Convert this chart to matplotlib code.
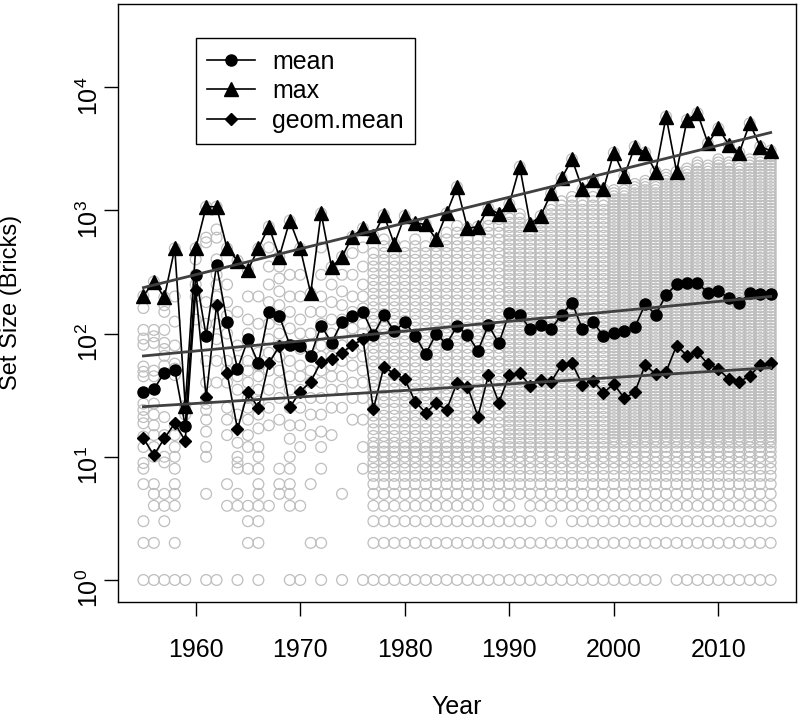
import numpy as np
import matplotlib
matplotlib.use("Agg")
from matplotlib import pyplot as plt
from matplotlib.ticker import LogLocator, LogFormatterSciNotation, NullLocator

plt.rcParams["font.family"] = ["Liberation Sans", "DejaVu Sans"]
plt.rcParams["mathtext.fontset"] = "custom"
plt.rcParams["mathtext.rm"] = "Liberation Sans"
plt.rcParams["mathtext.it"] = "Liberation Sans:italic"

years = list(range(1955, 2016))

# per-year summaries (bricks)
max_size = [202, 264, 197, 492, 26, 492, 1070, 1070, 492, 391,
            328, 492, 738, 421, 825, 492, 212, 947, 345, 421,
            612, 715, 620, 918, 531, 901, 785, 771, 582, 947,
            1550, 715, 738, 1040, 935, 1127, 2263, 775, 901, 1377,
            1822, 2600, 1483, 1765, 1483, 2940, 1902, 3290, 2940, 2062,
            5765, 2062, 5420, 6140, 3505, 4640, 3395, 2940, 5090, 3290, 3050]
mean_size = [33.4, 35.3, 48.2, 50.7, 17.8, 299, 96, 360, 125, 51.6,
             89.8, 57.4, 151, 139, 80.8, 79.3, 65.8, 116, 84.4, 125,
             139, 151, 97.4, 141, 104, 124, 95.7, 68.3, 99.2, 82.4,
             115, 97.4, 72.6, 117, 83.4, 147, 142, 109, 117, 109,
             142, 178, 108, 124, 95.7, 102, 104, 112, 174, 142,
             206, 251, 256, 256, 215, 222, 193, 178, 212, 210, 208]
geom_size = [14.1, 10.3, 14.1, 18.7, 13.5, 226, 30.4, 171, 48.2, 16.7,
             33.8, 24.8, 57.4, 79.3, 25.2, 33.8, 40.7, 59.2, 61.8, 70,
             80.8, 89.8, 24.3, 53.9, 47, 42.6, 28, 22.8, 27.2, 24,
             40, 37.1, 21.2, 46.1, 27.5, 46.1, 47.6, 37.6, 42, 40.7,
             55.6, 57.4, 38.3, 41.5, 33.1, 39, 29.8, 33.4, 55.6, 47,
             49.1, 79.8, 66.2, 70.5, 56.6, 51.6, 42.6, 40.3, 45.5, 55.6, 58]

# fitted trend lines (log scale), value at first and last year
trend_years = [1955, 2015]
trend_max = [236, 4280]
trend_mean = [65.8, 200]
trend_geom = [25.5, 52.8]

# individual set sizes, early years (sparse)
early_sizes = [
    [161, 107, 91, 81, 54, 49, 45, 27, 24, 21, 18.7, 14.6, 12, 8.9, 8, 6, 3, 2, 1],
    [107, 95, 84, 50, 45, 27, 22, 18, 15, 12, 10, 6, 5, 4, 2, 1],
    [170, 150, 107, 84, 75, 66, 55, 21, 15, 10, 9, 5, 4, 3, 1],
    [200, 125, 80, 57, 52, 46, 18, 15, 12, 10, 8, 6, 5, 4, 2, 1],
    [24, 22, 1],
    [400, 300, 250, 200, 130],
    [600, 550, 180, 120, 60, 40, 30, 27, 24, 20, 16, 12, 10, 5, 1],
    [700, 600, 400, 300, 250, 200, 170, 120, 90, 60, 40, 1],
    [250, 180, 140, 100, 60, 50, 40, 25, 20, 15, 6, 4],
    [150, 80, 60, 45, 35, 22, 13, 10, 9, 8, 5, 4, 1],
    [200, 130, 100, 85, 60, 50, 40, 30, 25, 20, 15, 12, 8, 4, 3, 2],
    [200, 120, 70, 55, 45, 35, 28, 22, 17, 12, 10, 8, 6, 5, 4, 3, 2, 1],
    [500, 350, 250, 180, 120, 90, 70, 50, 35, 25, 18, 4],
    [350, 280, 220, 170, 130, 100, 80, 65, 50, 40, 30, 20, 8, 6, 5],
    [300, 200, 150, 110, 80, 60, 45, 35, 25, 18, 14, 10, 8, 6, 5, 4, 1],
    [300, 200, 130, 100, 75, 55, 45, 35, 25, 18, 12, 4, 1],
    [150, 100, 80, 65, 50, 40, 30, 22, 15, 6, 2],
    [500, 300, 200, 150, 120, 100, 80, 65, 50, 40, 30, 22, 16, 12, 8, 2, 1],
    [250, 180, 130, 100, 80, 65, 55, 45, 35, 25, 15],
    [300, 220, 170, 130, 100, 80, 60, 45, 35, 25, 5, 1],
    [450, 300, 200, 150, 110, 90, 70, 55, 40, 30, 20],
    [500, 350, 250, 200, 160, 120, 100, 80, 65, 50, 40, 30, 20, 12, 8, 1],
]
# later years: sizes from 1 up to the top of the dense band
dense_top = [500, 600, 500, 580, 600, 560, 550, 700, 750, 650,
             650, 900, 850, 950, 1000, 700, 850, 1100, 1200, 1300,
             1200, 1300, 1250, 1500, 1500, 1700, 1800, 1700, 2000, 1900,
             2300, 2500, 2400, 2600, 2500, 2400, 2700, 2800, 2900]
gap_years = [2005, 1993, 1995, 1988, 1991]
gap_sizes = [1, 3, 3, 4, 4]

xs, ys = [], []
for i, yr in enumerate(years):
    if i < len(early_sizes):
        vals = list(early_sizes[i])
    else:
        top = dense_top[i - len(early_sizes)]
        vals = list(range(1, 13))
        step = 0.055 if yr < 1990 else (0.035 if yr < 2000 else 0.025)
        vals += list(10 ** np.arange(np.log10(13), np.log10(top), step))
        vals = [v for v in vals
                if not any(g == yr and s == v for g, s in zip(gap_years, gap_sizes))]
    vals.append(max_size[i])
    xs += [yr] * len(vals)
    ys += vals

fig = plt.figure(figsize=(8, 7.21), dpi=100)
ax = fig.add_axes([0.1479, 0.1655, 0.8468, 0.829])
ax.set_yscale("log")

ax.scatter(xs, ys, s=60, facecolors="none", edgecolors="#BEBEBE", linewidths=0.9, zorder=1)

l_mean, = ax.plot(years, mean_size, "-o", color="black", ms=8, lw=1.2, zorder=3)
l_max, = ax.plot(years, max_size, "-^", color="black", ms=10, lw=1.2, zorder=3)
l_geom, = ax.plot(years, geom_size, "-D", color="black", ms=6.3, lw=1.2, zorder=3)

for tr in (trend_max, trend_mean, trend_geom):
    ax.plot(trend_years, tr, color="#404040", lw=2.0, zorder=4)

ax.set_xlim(1952.6, 2017.4)
ax.set_ylim(10 ** -0.176, 10 ** 4.675)
ax.set_xticks([1960, 1970, 1980, 1990, 2000, 2010])
ax.yaxis.set_major_locator(LogLocator(base=10, numticks=10))
ax.yaxis.set_major_formatter(LogFormatterSciNotation())
ax.yaxis.set_minor_locator(NullLocator())
ax.tick_params(axis="both", length=10, width=1, labelsize=18)
ax.tick_params(axis="x", pad=16)
ax.tick_params(axis="y", pad=1, labelrotation=90)
for sp in ax.spines.values():
    sp.set_linewidth(1)

ax.set_xlabel("Year", fontsize=18, labelpad=24)
ax.set_ylabel("Set Size (Bricks)", fontsize=17)
ax.yaxis.set_label_coords(-0.142, 0.5)

leg = ax.legend([l_mean, l_max, l_geom], ["mean", "max", "geom.mean"],
                loc="upper left", bbox_to_anchor=(0.1143, 0.9426),
                borderaxespad=0, fontsize=18, handlelength=1.9,
                handletextpad=0.7, labelspacing=0.22, borderpad=0.45,
                fancybox=False, framealpha=1)
leg.get_frame().set_edgecolor("black")
leg.get_frame().set_linewidth(1)

fig.savefig("out.png", dpi=100)
